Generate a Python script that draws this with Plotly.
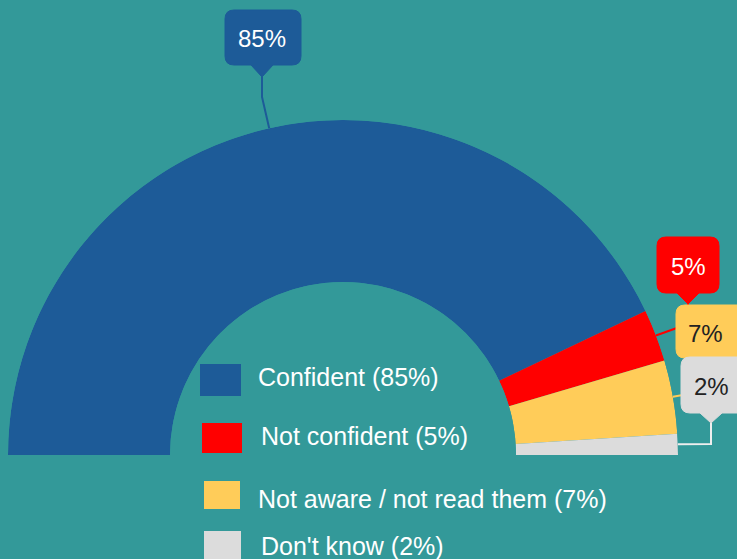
import math
import plotly.graph_objects as go

# ---------------- data ----------------
categories = ["Confident", "Not confident", "Not aware / not read them", "Don't know"]
values = [85, 5, 7, 2]
colors = ["#1d5b98", "#ff0000", "#ffcc59", "#dcdcdc"]
label_text_colors = ["#ffffff", "#ffffff", "#222222", "#222222"]

# ---------------- geometry ----------------
W, H = 737, 559
BG = "#339999"
CX, CY, R = 343, 455, 335          # pixel centre / outer radius of the half donut
HOLE = 173 / 335
FONT = "Liberation Sans, Arial, sans-serif"


def px(x):
    return x / W


def py(y):
    return 1 - y / H


total = sum(values)
spans = [v / total * 180 for v in values]
starts = [sum(spans[:i]) for i in range(len(spans))]
mids = [s + w / 2 for s, w in zip(starts, spans)]

fig = go.Figure()
for cat, val, col, mid, span in zip(categories, values, colors, mids, spans):
    fig.add_trace(go.Barpolar(
        r=[1], theta=[mid], width=[span], name=f"{cat} ({val}%)",
        marker=dict(color=col, line=dict(width=0)),
        showlegend=False, hoverinfo="skip",
    ))


def anchor(mid):
    a = math.radians(180 - mid)
    return CX + R * math.cos(a), CY - R * math.sin(a)


shapes = []
annotations = []


def line_path(pts, color, width=2):
    d = "M " + " L ".join(f"{px(x)},{py(y)}" for x, y in pts)
    shapes.append(dict(type="path", xref="paper", yref="paper", path=d,
                       line=dict(color=color, width=width), layer="above"))


def callout(x0, y0, x1, y1, color, tip=None, r=9):
    # rounded rectangle, optional downward pointer at tip=(tx, ty)
    P = lambda x, y: f"{px(x)},{py(y)}"
    d = f"M {P(x0 + r, y0)} L {P(x1 - r, y0)} Q {P(x1, y0)} {P(x1, y0 + r)} "
    d += f"L {P(x1, y1 - r)} Q {P(x1, y1)} {P(x1 - r, y1)} "
    if tip is not None:
        tx, ty = tip
        d += f"L {P(tx + 11, y1)} L {P(tx, ty)} L {P(tx - 11, y1)} "
    d += f"L {P(x0 + r, y1)} Q {P(x0, y1)} {P(x0, y1 - r)} "
    d += f"L {P(x0, y0 + r)} Q {P(x0, y0)} {P(x0 + r, y0)} Z"
    shapes.append(dict(type="path", xref="paper", yref="paper", path=d,
                       fillcolor=color, line=dict(color=color, width=1), layer="above"))


def label_text(x, y, text, color):
    annotations.append(dict(x=px(x), y=py(y), xref="paper", yref="paper", text=text,
                            showarrow=False, xanchor="center", yanchor="middle",
                            font=dict(family=FONT, size=24, color=color)))


anc = [anchor(m) for m in mids]

# connectors
ax, ay = anc[0]
line_path([(ax, ay), (262, 97), (262, 77)], colors[0])
ax, ay = anc[1]
line_path([(ax, ay), (688, 324), (688, 304)], colors[1])
ax, ay = anc[2]
line_path([(ax, ay), (700, 392), (700, 360)], colors[2])
ax, ay = anc[3]
line_path([(ax, ay), (711, 444), (711, 423)], "#eeeeee")

# boxes (drawn after lines so they cover the connector ends)
callout(225, 10, 301, 65, colors[0], tip=(262, 77))
callout(657, 237, 719, 293, colors[1], tip=(688, 304))
callout(676, 305, 748, 358, colors[2])
callout(681, 357, 748, 413, colors[3], tip=(711, 423))

label_text(262, 38, f"{values[0]}%", label_text_colors[0])
label_text(688, 266, f"{values[1]}%", label_text_colors[1])
label_text(705, 333, f"{values[2]}%", label_text_colors[2])
label_text(711, 386, f"{values[3]}%", label_text_colors[3])

# legend (manual, large swatches)
leg_rows = [(200, 364, 241, 396, 256, 377),
            (202, 423, 242, 453, 259, 436),
            (204, 481, 240, 509, 256, 499),
            (204, 531, 241, 562, 259, 546)]
for (x0, y0, x1, y1, tx, ty), cat, val, col in zip(leg_rows, categories, values, colors):
    shapes.append(dict(type="rect", xref="paper", yref="paper",
                       x0=px(x0), x1=px(x1), y0=py(y1), y1=py(y0),
                       fillcolor=col, line=dict(width=0), layer="above"))
    annotations.append(dict(x=px(tx), y=py(ty), xref="paper", yref="paper",
                            text=f"{cat} ({val}%)", showarrow=False,
                            xanchor="left", yanchor="middle",
                            font=dict(family=FONT, size=25, color="#ffffff")))

fig.update_layout(
    width=W, height=H,
    margin=dict(l=0, r=0, t=0, b=0),
    paper_bgcolor=BG, plot_bgcolor=BG,
    polar=dict(
        domain=dict(x=[px(CX - R), px(CX + R)], y=[py(CY), py(CY - R)]),
        sector=[0, 180], hole=HOLE, bgcolor="rgba(0,0,0,0)",
        bargap=0,
        angularaxis=dict(rotation=180, direction="clockwise", visible=False,
                         showgrid=False, showline=False, ticks=""),
        radialaxis=dict(range=[0, 1], visible=False, showgrid=False,
                        showline=False, ticks=""),
    ),
    shapes=shapes, annotations=annotations,
)

fig.write_html(
    "out.html",
    config={"displayModeBar": False},
    post_script="document.body.style.margin='0';document.body.style.background='#339999';",
)
